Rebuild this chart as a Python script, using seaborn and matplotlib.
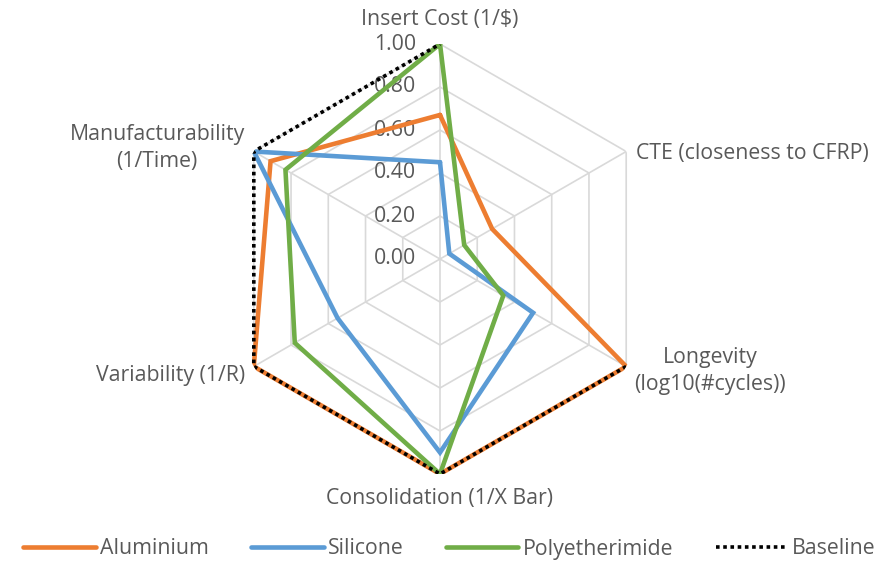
import numpy as np
import pandas as pd
import matplotlib
matplotlib.use("Agg")
import matplotlib.pyplot as plt
from matplotlib.lines import Line2D
import seaborn as sns

# Radar axes, clockwise from the top
categories = [
    "Insert Cost (1/$)",
    "CTE (closeness to CFRP)",
    "Longevity\n(log10(#cycles))",
    "Consolidation (1/X Bar)",
    "Variability (1/R)",
    "Manufacturability\n(1/Time)",
]
series_names = ["Aluminium", "Silicone", "Polyetherimide", "Baseline"]
aluminium = [0.67, 0.28, 1.00, 1.00, 1.00, 0.91]
silicone = [0.45, 0.05, 0.50, 0.90, 0.55, 1.00]
polyetherimide = [1.00, 0.13, 0.34, 1.00, 0.78, 0.83]
baseline = [1.00, np.nan, 1.00, 1.00, 1.00, 1.00]   # no baseline for CTE
tick_values = [0.0, 0.2, 0.4, 0.6, 0.8, 1.0]
tick_labels = ["0.00", "0.20", "0.40", "0.60", "0.80", "1.00"]

colors = {"Aluminium": "#ED7D31", "Silicone": "#5B9BD5",
          "Polyetherimide": "#70AD47", "Baseline": "#000000"}
text_color = "#595959"
grid_color = "#D9D9D9"
FS = 15.3

sns.set_theme(style="white")
plt.rcParams["font.family"] = ["Open Sans", "DejaVu Sans"]

W, H = 881, 564
fig = plt.figure(figsize=(W / 100, H / 100), dpi=100)
cx, cy, R = 440, 259, 215
ax = fig.add_axes([(cx - R) / W, (H - cy - R) / H, 2 * R / W, 2 * R / H],
                  projection="polar")
ax.set_theta_zero_location("N")
ax.set_theta_direction(-1)

n = len(categories)
angles = np.linspace(0, 2 * np.pi, n, endpoint=False)
closed_angles = np.append(angles, 2 * np.pi)

# Hexagonal grid and spokes
for t in tick_values[1:]:
    ax.plot(closed_angles, [t] * (n + 1), color=grid_color, lw=1.2, zorder=1)
for a in angles:
    ax.plot([a, a], [0, 1], color=grid_color, lw=1.2, zorder=1)


def closed_path(vals):
    """Closed polygon path; a missing value opens the loop at that axis."""
    vals = np.asarray(vals, dtype=float)
    th = list(closed_angles)
    rr = list(vals) + [vals[0]]
    missing = np.where(np.isnan(vals))[0]
    if len(missing) == 0:
        return th, rr
    k = missing[0]
    # walk around the polygon starting just after the gap
    idx = [(k + 1 + i) % n for i in range(n - 1)]
    th = []
    for j, i in enumerate(idx):
        base = angles[i]
        if j > 0 and base < th[-1]:
            base += 2 * np.pi
        th.append(base)
    rr = [vals[i] for i in idx]
    return th, rr


values = {"Aluminium": aluminium, "Silicone": silicone,
          "Polyetherimide": polyetherimide, "Baseline": baseline}
rows = []
for name in series_names:
    th, rr = closed_path(values[name])
    for a, r in zip(th, rr):
        if not np.isnan(r):
            rows.append({"series": name, "theta": a, "r": r})
df = pd.DataFrame(rows)

for name in series_names:
    sub = df[df["series"] == name]
    if name == "Baseline":
        sns.lineplot(data=sub, x="theta", y="r", sort=False, estimator=None,
                     color=colors[name], lw=2.6, linestyle=(0, (1, 1)),
                     dash_capstyle="butt", label=name, ax=ax, zorder=5)
    else:
        sns.lineplot(data=sub, x="theta", y="r", sort=False, estimator=None,
                     color=colors[name], lw=3.3, label=name, ax=ax, zorder=3,
                     solid_joinstyle="miter")

ax.set_ylim(0, 1)
ax.set_xticks([])
ax.set_yticks([])
ax.grid(False)
ax.spines["polar"].set_visible(False)
ax.set_xlabel("")
ax.set_ylabel("")
ax.patch.set_alpha(0)
ax.legend_.remove()

# Value labels along the top spoke
for t, lab in zip(tick_values, tick_labels):
    ax.annotate(lab, xy=(0, t), xytext=(-24, 0), textcoords="offset pixels",
                ha="right", va="center", fontsize=FS, color=text_color,
                zorder=2)

# Category labels
label_offsets = [
    ((0, 24), "center"),
    ((10, -2), "left"),
    ((8, -4.5), "left"),
    ((0, -24.5), "center"),
    ((-9, -8.5), "right"),
    ((-9, 3.5), "right"),
]
for a, lab, (off, ha) in zip(angles, categories, label_offsets):
    ax.annotate(lab, xy=(a, 1.0), xytext=off, textcoords="offset pixels",
                ha=ha, va="center", multialignment="center", fontsize=FS,
                color=text_color, linespacing=1.4, annotation_clip=False)

handles = [Line2D([], [], color=colors[nm], lw=3.3) if nm != "Baseline"
           else Line2D([], [], color="black", lw=2.6, linestyle=(0, (1, 1)))
           for nm in series_names]
fig.legend(handles, series_names, loc="center",
           bbox_to_anchor=(0.5 + 9 / W, 15 / H),
           ncol=4, frameon=False, fontsize=FS, labelcolor=text_color,
           handlelength=3.4, handletextpad=0.2, columnspacing=2.0,
           borderaxespad=0, borderpad=0)

fig.savefig("out.png", dpi=100, facecolor="white")
